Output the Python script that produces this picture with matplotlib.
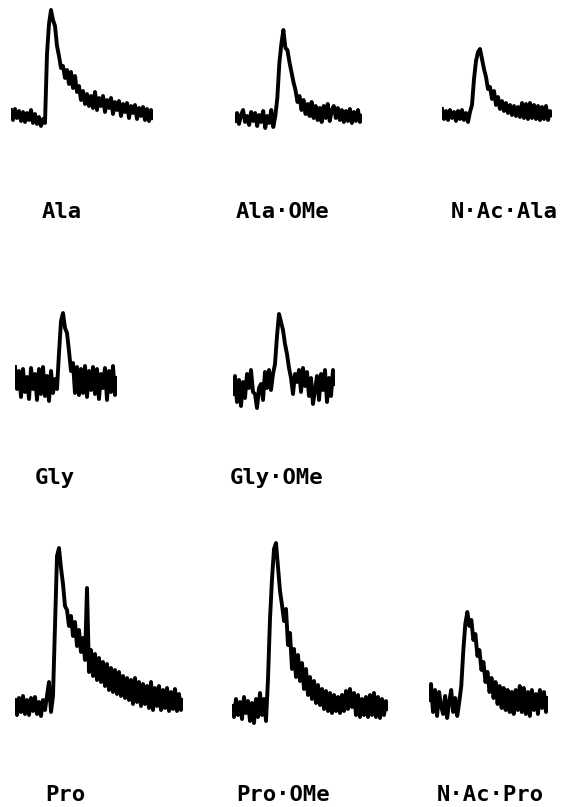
import matplotlib.pyplot as plt
import numpy as np

# sinais (altura acima da linha de base, unidades arbitrarias ~ px)
ala = [6, -4, 7, -2, 5, -5, 4, -6, 3, -4, 6, -7, 2, -8, -1, -10, -3, -7,
       62, 92, 106, 96, 90, 70, 60, 48, 50, 38, 46, 32, 44, 28, 40, 24, 30, 16,
       25, 12, 22, 10, 20, 8, 24, 6, 18, 10, 20, 4, 16, 8, 18, 2, 14, 6, 15, 0,
       12, 4, 13, -2, 10, 3, 11, -3, 8, 0, 9, -4, 7, -5, 6, -2]
ala_ome = [-3, 5, -6, 3, 8, -4, 2, -7, 6, -3, 5, -8, 3, -4, 7, -10, 2, -5, 8, -9, 2,
           20, 55, 74, 88, 70, 68, 56, 46, 36, 28, 16, 22, 8, 18, 4, 14, 2, 16,
           0, 12, -2, 10, -4, 12, 0, 14, -3, 8, 12, 0, 10, -2, 8, -4, 7, -3, 9,
           -5, 6, -3, 8, -4, 2]
nac_ala = [6, -4, 4, -5, 5, -3, 3, -6, 4, -4, 5, -5, 2, -7, 3,
           10, 36, 54, 63, 66, 56, 46, 38, 26, 28, 16, 24, 10, 18, 6, 14, 4, 12,
           2, 10, 0, 9, -1, 8, -2, 12, -3, 11, -4, 12, -3, 10, -4, 9, -5, 8, -4,
           9, -5, 4, 0]
gly = [16, -6, 12, -14, 14, -9, 6, -16, 15, -6, 9, -17, 14, -11, 16, -13, 7,
       -18, 12, -10, 4, -6,
       30, 62, 70, 55, 50, 32, 12, 20, -10, 16, -12, 14, -10, 17, -14, 12, -7,
       16, -11, 14, -16, 9, -5, 15, -17, 12, -9, 17, -12, 5]
gly_ome = [-6, 12, -14, 8, -18, 6, -10, 14, 0, 18, -4, -6, -20, 0, 4, -12, 16,
           0, 18, -2, 14,
           24, 52, 74, 66, 58, 44, 34, 20, 10, -6, 14, 6, 18, -4, 20, 2, 16, -8,
           10, -16, -2, 12, -12, 14, -2, 18, -14, 10, -8, 18, 4]
pro = [6, -9, 8, -6, 10, -8, 6, -9, 8, -5, 9, -8, 4, -10, 6, -4, 10, 24, -6,
       10, 80, 150, 158, 138, 122, 100, 96, 80, 90, 70, 84, 60, 76, 54, 68, 46,
       118, 34, 56, 30, 52, 26, 48, 24, 44, 20, 42, 16, 38, 14, 36, 12, 34, 10,
       30, 8, 28, 6, 26, 2, 28, 4, 24, 0, 22, 2, 20, -2, 24, -4, 18, 0, 20, -4,
       16, -2, 18, -5, 14, -3, 17, -5, 12, -4, 6]
pro_ome = [3, -8, 10, -6, 7, -10, 12, -4, 8, -12, 6, -14, 10, -8, 16, -6, 10, -12,
           30, 90, 130, 160, 166, 142, 118, 104, 88, 100, 64, 76, 40, 60, 32,
           54, 28, 46, 20, 40, 14, 32, 10, 28, 6, 24, 4, 20, 0, 18, -2, 16, -4,
           14, -2, 12, -4, 14, -2, 18, 0, 20, 2, 16, -6, 14, -8, 10, -6, 12, -8,
           14, -6, 16, -8, 12, -9, 10, -6, 8, 0]
nac_pro = [6, 22, -6, 16, -10, 14, 0, -8, 10, -12, 4, 16, -6, 8, -10, 4,
           20, 55, 82, 94, 80, 86, 66, 72, 50, 56, 36, 44, 24, 34, 14, 28, 8,
           24, 2, 20, -2, 18, -4, 16, -6, 14, -8, 16, -4, 20, -6, 18, -8, 14,
           -10, 16, -4, 12, -8, 16, -2, 14, -6, 8]

nomes = ["Ala", "Ala·OMe", "N·Ac·Ala", "Gly", "Gly·OMe", "Pro", "Pro·OMe", "N·Ac·Pro"]
sinais = [ala, ala_ome, nac_ala, gly, gly_ome, pro, pro_ome, nac_pro]

# posicao de cada traco em px: (x inicio, x fim, linha de base)
W, H = 562, 807
tracos = [(11, 153, 116), (235, 362, 118), (442, 552, 115),
          (15, 117, 383), (233, 335, 388),
          (15, 183, 706), (232, 388, 709), (429, 548, 706)]
rotulos = [(42, 212), (236, 212), (451, 212),
           (35, 478), (230, 478),
           (45, 795), (236, 795), (437, 795)]

fig = plt.figure(figsize=(W / 100, H / 100), dpi=100)
fig.patch.set_facecolor("white")

for sinal, (x0, x1, yb) in zip(sinais, tracos):
    ax = fig.add_axes([x0 / W, 1 - (yb + 25) / H, (x1 - x0) / W, 200 / H])
    ax.plot(np.arange(len(sinal)), sinal, color="black", lw=2.8,
            solid_joinstyle="round")
    ax.set_xlim(0, len(sinal) - 1)
    ax.set_ylim(-25, 175)
    ax.axis("off")

for nome, (x, y) in zip(nomes, rotulos):
    fig.text(x / W, 1 - y / H, nome, ha="left", va="center",
             family="DejaVu Sans Mono", fontsize=16, fontweight="bold",
             color="black")

fig.savefig("out.png", dpi=100, facecolor="white")
